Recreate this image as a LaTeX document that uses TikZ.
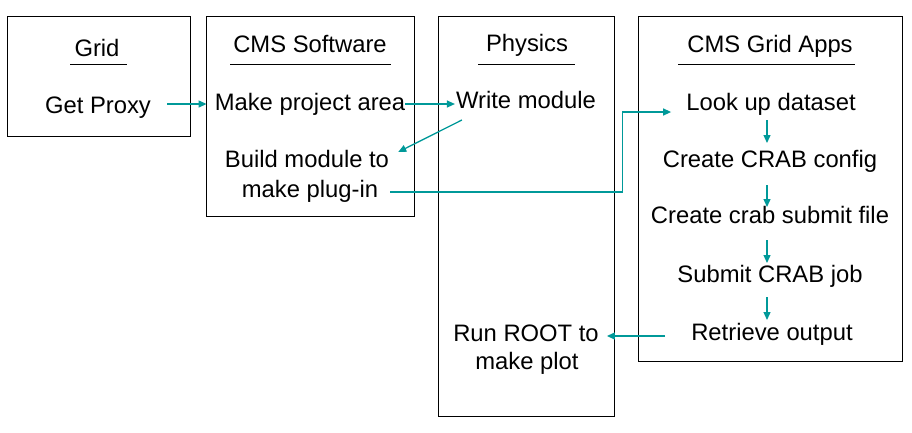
\documentclass[tikz,border=0pt]{standalone}
\usepackage{fontspec}
\setmainfont{Liberation Sans}
\usetikzlibrary{arrows.meta}
\definecolor{tealarr}{RGB}{0,153,153}
\begin{document}
\begin{tikzpicture}[x=1pt,y=-1pt,
  box/.style={draw=black,line width=1pt,anchor=north west,inner sep=0pt},
  txt/.style={anchor=base,inner sep=0pt,font=\fontsize{23.8}{30}\selectfont},
  uline/.style={draw=black,line width=1pt},
  arr/.style={draw=tealarr,line width=1.3pt,-{Triangle[length=8pt,width=7pt]}}]
\useasboundingbox[fill=white] (0,0) rectangle (912,432);
% boxes
\node[box,minimum width=183pt,minimum height=120pt] (gridbox) at (7,16) {};
\node[box,minimum width=208pt,minimum height=200pt] (swbox) at (206,16) {};
\node[box,minimum width=176pt,minimum height=400pt] (physbox) at (438,16) {};
\node[box,minimum width=264pt,minimum height=345pt] (appsbox) at (638,16) {};
% titles
\node[txt] (tgrid) at (97,56) {Grid};
\node[txt] (tsw) at (310,52) {CMS Software};
\node[txt] (tphys) at (527,51) {Physics};
\node[txt] (tapps) at (770,52) {CMS Grid Apps};
\draw[uline] (70,64) -- (127,64);
\draw[uline] (230,64) -- (391,64);
\draw[uline] (478,64) -- (575,64);
\draw[uline] (678,64) -- (855,64);
% texts
\node[txt] (proxy) at (98,113) {Get Proxy};
\node[txt] (mpa) at (310,110) {Make project area};
\node[txt] (build) at (307,167) {Build module to};
\node[txt] (plug) at (310,197) {make plug-in};
\node[txt] (write) at (526,108) {Write module};
\node[txt] (root) at (526,341) {Run ROOT to};
\node[txt] (plot) at (527,369) {make plot};
\node[txt] (look) at (771,110) {Look up dataset};
\node[txt] (cfg) at (770,167) {Create CRAB config};
\node[txt] (sub) at (770,223) {Create crab submit file};
\node[txt] (job) at (770,282) {Submit CRAB job};
\node[txt] (retr) at (772,340) {Retrieve output};
% arrows
\draw[arr] ([xshift=16pt,yshift=9pt]proxy.base east) -- ([xshift=-8pt,yshift=6pt]mpa.base west);
\draw[arr] ([yshift=6pt]mpa.base east) -- ([xshift=-1pt,yshift=4pt]write.base west);
\draw[arr] ([xshift=6pt,yshift=-12pt]write.base west) -- ([xshift=9pt,yshift=15pt]build.base east);
\draw[arr] ([xshift=12pt,yshift=5pt]plug.base east) -- ++(232,0) |- ([xshift=-15pt,yshift=-2pt]look.base west);
\draw[arr] ([xshift=-4pt,yshift=-10pt]look.base) -- ([xshift=-3pt,yshift=24pt]cfg.base);
\draw[arr] ([xshift=-3pt,yshift=-18pt]cfg.base) -- ([xshift=-3pt,yshift=16pt]sub.base);
\draw[arr] ([xshift=-3pt,yshift=-17pt]sub.base) -- ([xshift=-3pt,yshift=19pt]job.base);
\draw[arr] ([xshift=-3pt,yshift=-15pt]job.base) -- ([xshift=-5pt,yshift=20pt]retr.base);
\draw[arr] ([xshift=-26pt,yshift=4pt]retr.base west) -- ([xshift=8pt,yshift=5pt]root.base east);
\end{tikzpicture}
\end{document}
